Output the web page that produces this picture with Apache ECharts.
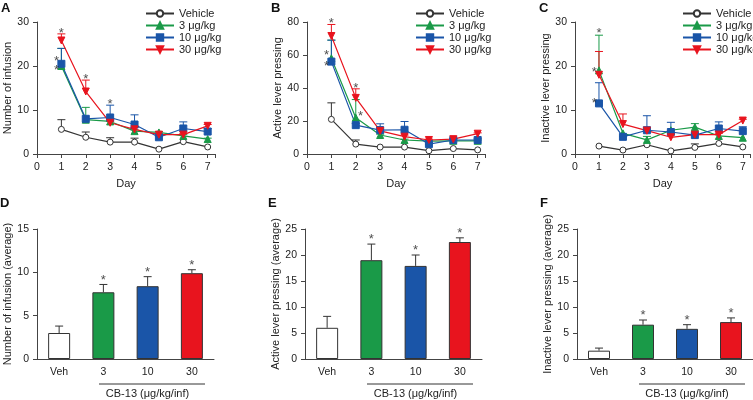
<!DOCTYPE html>
<html><head><meta charset="utf-8">
<script src="https://cdn.jsdelivr.net/npm/echarts@6/dist/echarts.min.js"></script>
<style>html,body{margin:0;background:#fff}#main{width:753px;height:400px}</style>
</head><body><div id="main"></div>
<script>
var days = [1, 2, 3, 4, 5, 6, 7];
var groups = ['Vehicle', '3 μg/kg', '10 μg/kg', '30 μg/kg'];
var colors = ['#333333', '#1a9a48', '#1a55a8', '#e8141e'];
var symbols = ['circle', 'triangle', 'rect', 'path://M0,0L10,0L5,9Z'];

// line panels: means and upward SEM per group
var infMean = [[5.6, 3.8, 2.7, 2.7, 1.1, 2.8, 1.6], [20, 7.8, 7.4, 5.2, 4.9, 4.1, 3.4], [20.5, 8.0, 8.3, 6.7, 3.8, 5.8, 5.1], [25.8, 14.2, 7.1, 5.6, 4.4, 4.4, 6.4]];
var infErr = [[2.2, 1.2, 1, 0.9, 0, 0, 0], [4, 2.8, 0.4, 0.3, 0.2, 0.3, 0.2], [3.5, 0, 2.8, 2.2, 0.3, 1.5, 0.7], [1.5, 2.6, 0.3, 0.4, 0.3, 0.3, 0.3]];
var actMean = [[21, 6, 4.2, 4.2, 2, 3.3, 2.5], [58, 22, 11.5, 8.5, 7.8, 8, 8], [56, 17.5, 14.5, 14.7, 6, 8.5, 8.5], [71.5, 34, 14, 10.5, 8.5, 9, 12.3]];
var actErr = [[10, 2.5, 0, 0, 0, 0, 0], [11, 11, 0.5, 0.5, 0.5, 0.5, 0.5], [13, 1, 3.8, 5, 1, 0.8, 1], [7, 5.5, 1, 1, 0.5, 0.5, 0.5]];
var inaMean = [[1.8, 0.9, 2.1, 0.7, 1.5, 2.4, 1.6], [19, 4.7, 3.2, 5.4, 6.1, 4.1, 3.7], [11.5, 3.9, 5.4, 5, 4.3, 5.8, 5.2], [18, 6.8, 5.3, 3.8, 4.4, 4.4, 7.6]];
var inaErr = [[0, 0, 0, 0, 0.8, 0, 0], [8, 0, 0.8, 0, 0.8, 0, 0], [4.7, 0, 3.3, 2.2, 0, 1.5, 1], [5.3, 2.3, 0.8, 1.5, 0.3, 0.3, 0.3]];
// asterisk positions [day, value]
var infStars = [[1, 27.5], [0.8, 21], [0.8, 19], [2, 17], [3, 11.3]];
var actStars = [[1, 79], [0.8, 60], [0.8, 53], [2, 39.5], [2.2, 23]];
var inaStars = [[1, 27.3], [0.8, 18.5], [0.8, 11.5]];

// bar panels
var doses = ['Veh', '3', '10', '30'];
var infAvg = [3, 7.7, 8.4, 9.9], infAvgErr = [0.8, 0.9, 1.1, 0.4];
var actAvg = [6, 19, 17.9, 22.5], actAvgErr = [2.2, 3.1, 2.1, 0.8];
var inaAvg = [1.6, 6.6, 5.8, 7.1], inaAvgErr = [0.5, 0.9, 0.8, 0.8];
var barColors = ['#ffffff', '#1a9a48', '#1a55a8', '#e8141e'];

var font = 'Arial, Liberation Sans, sans-serif';
var axisLine = { lineStyle: { color: '#444', width: 1 } };
var axisLabel = { color: '#222', fontSize: 10.5, fontFamily: font };
var nameStyle = { fontSize: 11, fontFamily: font, color: '#222' };
var grid = [], xAxis = [], yAxis = [], series = [], graphic = [], legend = [];

function errBars(idx, data, err, color, xs) {
  return {
    type: 'custom', xAxisIndex: idx, yAxisIndex: idx, z: 1, silent: true,
    data: data.map(function (d, i) { return [xs[i], d, err[i]]; }),
    renderItem: function (params, api) {
      if (api.value(2) <= 0) return null;
      var p0 = api.coord([api.value(0), api.value(1)]);
      var p1 = api.coord([api.value(0), api.value(1) + api.value(2)]);
      var st = { stroke: color, lineWidth: 1 };
      return { type: 'group', children: [
        { type: 'line', shape: { x1: p0[0], y1: p0[1], x2: p1[0], y2: p1[1] }, style: st },
        { type: 'line', shape: { x1: p1[0] - 4, y1: p1[1], x2: p1[0] + 4, y2: p1[1] }, style: st }
      ] };
    }
  };
}

function yAx(idx, max, interval, name) {
  return { gridIndex: idx, type: 'value', min: 0, max: max, interval: interval, name: name, nameLocation: 'middle', nameGap: 22,
    nameTextStyle: nameStyle, axisLine: Object.assign({ show: true }, axisLine),
    axisTick: { show: true, lineStyle: { color: '#444' }, length: 4 }, splitLine: { show: false }, axisLabel: axisLabel };
}

function linePanel(idx, left, legLeft, max, interval, name, means, errs, stars, letter) {
  grid.push({ left: left, top: 22, width: 178, height: 132 });
  xAxis.push({ gridIndex: idx, type: 'value', min: 0, max: 7.3, interval: 1, name: 'Day', nameLocation: 'middle', nameGap: 24,
    nameTextStyle: nameStyle, axisLine: axisLine, axisTick: { lineStyle: { color: '#444' }, length: 4 }, splitLine: { show: false },
    axisLabel: Object.assign({ formatter: function (v) { return v <= 7 ? v : ''; } }, axisLabel) });
  yAxis.push(yAx(idx, max, interval, name));
  var names = [];
  for (var g = 0; g < 4; g++) {
    var nm = groups[g] + ' ' + letter;
    names.push(nm);
    series.push(errBars(idx, means[g], errs[g], colors[g], days));
    series.push({ name: nm, type: 'line', xAxisIndex: idx, yAxisIndex: idx, z: 3,
      data: means[g].map(function (v, i) { return [days[i], v]; }),
      symbol: symbols[g], symbolSize: g === 0 ? 6 : 7,
      itemStyle: { color: g === 0 ? '#fff' : colors[g], borderColor: colors[g], borderWidth: 1 },
      lineStyle: { color: colors[g], width: 1.2 } });
  }
  series.push({ type: 'scatter', xAxisIndex: idx, yAxisIndex: idx, data: stars, symbolSize: 0, z: 5, silent: true,
    label: { show: true, formatter: '*', position: 'inside', fontSize: 13, color: '#222', fontFamily: font } });
  legend.push({ data: names, left: legLeft, top: 3, orient: 'vertical', itemGap: 1, itemWidth: 28, itemHeight: 8,
    formatter: function (n) { return n.slice(0, -2); },
    textStyle: { fontSize: 11, fontFamily: font, color: '#222' } });
  graphic.push({ type: 'text', left: left - 36, top: 2, style: { text: letter, font: 'bold 13px Arial', fill: '#111' } });
}

function barPanel(idx, left, max, interval, name, vals, errs, letter) {
  grid.push({ left: left, top: 229, width: 177, height: 133 });
  xAxis.push({ gridIndex: idx, type: 'category', data: doses, name: 'CB-13 (μg/kg/inf)', nameLocation: 'middle', nameGap: 29,
    nameTextStyle: Object.assign({ padding: [0, 0, 0, 44] }, nameStyle),
    axisLine: axisLine, axisTick: { show: false }, axisLabel: axisLabel });
  yAxis.push(yAx(idx, max, interval, name));
  series.push(errBars(idx, vals, errs, '#333', [0, 1, 2, 3]));
  series.push({ type: 'bar', xAxisIndex: idx, yAxisIndex: idx, barWidth: 22, z: 2,
    data: vals.map(function (v, i) { return { value: v, itemStyle: { color: barColors[i], borderColor: '#333', borderWidth: 1 } }; }) });
  series.push({ type: 'scatter', xAxisIndex: idx, yAxisIndex: idx, symbolSize: 0, z: 5, silent: true,
    data: vals.slice(1).map(function (v, i) { return [i + 1, v + errs[i + 1]]; }),
    label: { show: true, formatter: '*', position: 'top', distance: -2, fontSize: 13, color: '#222' } });
  graphic.push({ type: 'line', shape: { x1: left + 62, y1: 384, x2: left + 168, y2: 384 }, style: { stroke: '#333', lineWidth: 1 } });
  graphic.push({ type: 'text', left: left - 37, top: 197, style: { text: letter, font: 'bold 13px Arial', fill: '#111' } });
}

linePanel(0, 37, 140, 30, 10, 'Number of infusion', infMean, infErr, infStars, 'A');
linePanel(1, 307, 410, 80, 20, 'Active lever pressing', actMean, actErr, actStars, 'B');
linePanel(2, 575, 677, 30, 10, 'Inactive lever pressing', inaMean, inaErr, inaStars, 'C');
barPanel(3, 37, 15, 5, 'Number of infusion (average)', infAvg, infAvgErr, 'D');
barPanel(4, 305, 25, 5, 'Active lever pressing (average)', actAvg, actAvgErr, 'E');
barPanel(5, 577, 25, 5, 'Inactive lever pressing (average)', inaAvg, inaAvgErr, 'F');

var chart = echarts.init(document.getElementById('main'));
chart.setOption({ animation: false, backgroundColor: '#fff', grid: grid, xAxis: xAxis, yAxis: yAxis, series: series, legend: legend, graphic: graphic });
</script></body></html>
